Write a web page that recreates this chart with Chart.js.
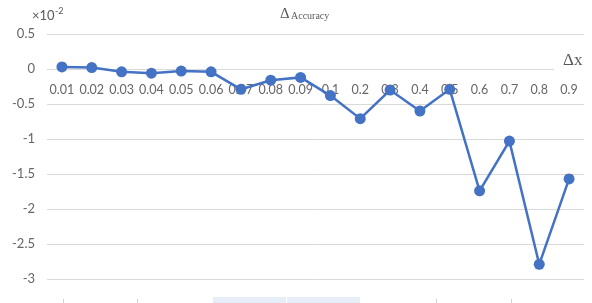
<!DOCTYPE html>
<html>
<head>
<meta charset="utf-8">
<script src="https://cdn.jsdelivr.net/npm/chart.js@4"></script>
<style>
  html, body { margin: 0; padding: 0; background: #fff; }
  #wrap { width: 592px; height: 303px; position: relative; }
</style>
</head>
<body>
<div id="wrap"><canvas id="accChart"></canvas></div>
<script>
const deltaX = ["0.01", "0.02", "0.03", "0.04", "0.05", "0.06", "0.07", "0.08", "0.09",
  "0.1", "0.2", "0.3", "0.4", "0.5", "0.6", "0.7", "0.8", "0.9"];
const accuracyBlue = [0.03, 0.02, -0.04, -0.06, -0.03, -0.04, -0.29, -0.16, -0.12,
  -0.38, -0.71, -0.30, -0.60, -0.29, -1.74, -1.03, -2.79, -1.57];
const accuracyOrange = [0.04, 0.03, -0.04, -0.06, -0.02, -0.04, -0.28, -0.15, -0.12,
  -0.38, -0.71, -0.28, -0.60, -0.27, -1.73, -1.03, -2.78, -1.55];
const yTicks = [0.5, 0, -0.5, -1, -1.5, -2, -2.5, -3];

const grey = "#595959";

// title, unit and axis name drawn as text on top of the canvas
const textPlugin = {
  id: "texts",
  afterDraw(chart) {
    const ctx = chart.ctx;
    ctx.save();
    ctx.fillStyle = grey;
    ctx.textBaseline = "alphabetic";
    ctx.textAlign = "left";
    // title
    ctx.font = "15px 'Liberation Serif'";
    ctx.fillText("\u0394", 280, 18);
    ctx.font = "10px 'Liberation Serif'";
    ctx.fillText("Accuracy", 291, 19);
    // unit
    ctx.font = "13px Lato";
    ctx.fillText("\u00d710", 32, 20);
    ctx.font = "9px Lato";
    ctx.fillText("-2", 55, 14);
    // x axis name
    const y0 = chart.scales.y.getPixelForValue(0);
    ctx.fillStyle = "#fff";
    ctx.fillRect(554, y0 - 2, 32, 4);
    ctx.fillStyle = grey;
    ctx.font = "17px 'Liberation Serif'";
    ctx.fillText("\u0394x", 563, y0 - 4);
    // faint bits along the bottom edge of the crop
    ctx.fillStyle = "#e8eef8";
    ctx.fillRect(213, 297, 73, 6);
    ctx.fillRect(287, 297, 73, 6);
    ctx.fillStyle = "#d0d0d0";
    [63, 137, 436, 511].forEach(x => ctx.fillRect(x, 299, 1, 4));
    ctx.restore();
  }
};

new Chart(document.getElementById("accChart"), {
  type: "line",
  data: {
    labels: deltaX,
    datasets: [
      {
        label: "orange",
        data: accuracyOrange,
        borderColor: "#ED7D31",
        backgroundColor: "#ED7D31",
        showLine: false,
        pointStyle: "rect",
        pointRadius: 5,
        pointBorderWidth: 0,
        order: 2
      },
      {
        label: "blue",
        data: accuracyBlue,
        borderColor: "#4472C4",
        backgroundColor: "#4472C4",
        borderWidth: 2.5,
        pointStyle: "circle",
        pointRadius: 5.5,
        pointBorderWidth: 0,
        order: 1
      }
    ]
  },
  options: {
    responsive: true,
    maintainAspectRatio: false,
    animation: false,
    layout: { padding: { top: 34, right: 8, bottom: 24, left: 0 } },
    plugins: { legend: { display: false }, tooltip: { enabled: false } },
    scales: {
      x: {
        position: { y: 0 },
        offset: true,
        grid: { display: false },
        border: { display: false },
        ticks: { color: "#666", font: { family: "Lato", size: 12.5 }, padding: 5, maxRotation: 0, autoSkip: false }
      },
      y: {
        min: -3,
        max: 0.5,
        afterBuildTicks: s => { s.ticks = yTicks.map(v => ({ value: v })); },
        afterFit: s => { s.width = 47; },
        grid: { color: "#d9d9d9", lineWidth: 1, drawTicks: false },
        border: { display: false },
        ticks: { color: "#666", font: { family: "Lato", size: 13 }, padding: 12, callback: v => String(v) }
      }
    }
  },
  plugins: [textPlugin]
});
</script>
</body>
</html>
